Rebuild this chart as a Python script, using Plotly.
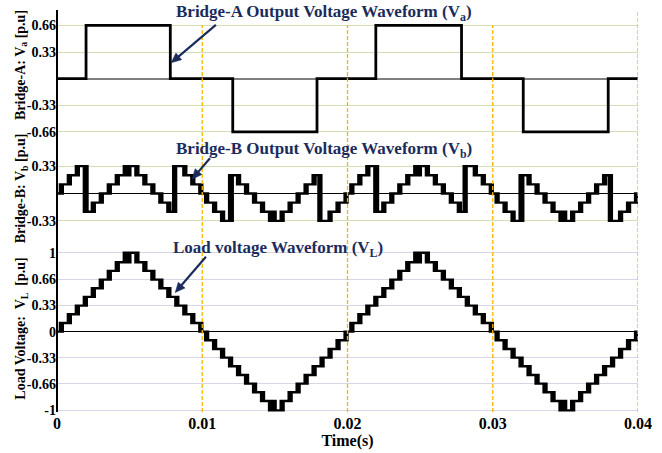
import math
import plotly.graph_objects as go

# ---------------- data ----------------
x_tick_vals = [0, 0.01, 0.02, 0.03, 0.04]
x_tick_text = ["0", "0.01", "0.02", "0.03", "0.04"]

va_tick_vals = [0.66, 0.33, -0.33, -0.66]
va_tick_text = ["0.66", "0.33", "-0.33", "-0.66"]
vb_tick_vals = [0.33, -0.33]
vb_tick_text = ["0.33", "-0.33"]
vl_tick_vals = [1, 0.66, 0.33, 0, -0.33, -0.66, -1]
vl_tick_text = ["1", "0.66", "0.33", "0", "-0.33", "-0.66", "-1"]

# Bridge-A output (step changes, time in ms)
va_time_ms = [0, 2.0, 7.8, 12.1, 17.9, 21.95, 27.85, 32.1, 37.95, 40.0]
va_value = [0, 0.66, 0, -0.66, 0, 0.66, 0, -0.66, 0, 0]

# Load voltage (staircase with switching chatter, time in ms)
vl_time_ms = [
    0,
    0.20, 0.30, 0.40, 0.75, 0.85, 0.95, 1.30, 1.40, 1.50, 1.85, 1.95, 2.05,
    2.40, 2.50, 2.60, 2.95, 3.05, 3.15, 3.50, 3.60, 3.70, 4.05, 4.15, 4.25,
    4.60, 4.70, 4.80, 4.95, 5.05,
    5.40, 5.50, 5.60, 5.95, 6.05, 6.15, 6.50, 6.60, 6.70, 7.05, 7.15, 7.25,
    7.60, 7.70, 7.80, 8.15, 8.25, 8.35, 8.70, 8.80, 8.90, 9.25, 9.35, 9.45,
    9.80, 9.90, 10.00,
    10.20, 10.30, 10.40, 10.75, 10.85, 10.95, 11.30, 11.40, 11.50, 11.85, 11.95, 12.05,
    12.40, 12.50, 12.60, 12.95, 13.05, 13.15, 13.50, 13.60, 13.70, 14.05, 14.15, 14.25,
    14.60, 14.70, 14.80, 14.95, 15.05,
    15.40, 15.50, 15.60, 15.95, 16.05, 16.15, 16.50, 16.60, 16.70, 17.05, 17.15, 17.25,
    17.60, 17.70, 17.80, 18.15, 18.25, 18.35, 18.70, 18.80, 18.90, 19.25, 19.35, 19.45,
    19.80, 19.90, 20.00,
    20.20, 20.30, 20.40, 20.75, 20.85, 20.95, 21.30, 21.40, 21.50, 21.85, 21.95, 22.05,
    22.40, 22.50, 22.60, 22.95, 23.05, 23.15, 23.50, 23.60, 23.70, 24.05, 24.15, 24.25,
    24.60, 24.70, 24.80, 24.95, 25.05,
    25.40, 25.50, 25.60, 25.95, 26.05, 26.15, 26.50, 26.60, 26.70, 27.05, 27.15, 27.25,
    27.60, 27.70, 27.80, 28.15, 28.25, 28.35, 28.70, 28.80, 28.90, 29.25, 29.35, 29.45,
    29.80, 29.90, 30.00,
    30.20, 30.30, 30.40, 30.75, 30.85, 30.95, 31.30, 31.40, 31.50, 31.85, 31.95, 32.05,
    32.40, 32.50, 32.60, 32.95, 33.05, 33.15, 33.50, 33.60, 33.70, 34.05, 34.15, 34.25,
    34.60, 34.70, 34.80, 34.95, 35.05,
    35.40, 35.50, 35.60, 35.95, 36.05, 36.15, 36.50, 36.60, 36.70, 37.05, 37.15, 37.25,
    37.60, 37.70, 37.80, 38.15, 38.25, 38.35, 38.70, 38.80, 38.90, 39.25, 39.35, 39.45,
    39.80, 39.90, 40.00,
]
vl_value = [
    0,
    0.11, 0, 0.11, 0.22, 0.11, 0.22, 0.33, 0.22, 0.33, 0.44, 0.33, 0.44,
    0.55, 0.44, 0.55, 0.66, 0.55, 0.66, 0.77, 0.66, 0.77, 0.88, 0.77, 0.88,
    1.0, 0.88, 1.0, 0.88, 1.0,
    0.88, 1.0, 0.88, 0.77, 0.88, 0.77, 0.66, 0.77, 0.66, 0.55, 0.66, 0.55,
    0.44, 0.55, 0.44, 0.33, 0.44, 0.33, 0.22, 0.33, 0.22, 0.11, 0.22, 0.11,
    0, 0.11, 0,
    -0.11, 0, -0.11, -0.22, -0.11, -0.22, -0.33, -0.22, -0.33, -0.44, -0.33, -0.44,
    -0.55, -0.44, -0.55, -0.66, -0.55, -0.66, -0.77, -0.66, -0.77, -0.88, -0.77, -0.88,
    -1.0, -0.88, -1.0, -0.88, -1.0,
    -0.88, -1.0, -0.88, -0.77, -0.88, -0.77, -0.66, -0.77, -0.66, -0.55, -0.66, -0.55,
    -0.44, -0.55, -0.44, -0.33, -0.44, -0.33, -0.22, -0.33, -0.22, -0.11, -0.22, -0.11,
    0, -0.11, 0,
    0.11, 0, 0.11, 0.22, 0.11, 0.22, 0.33, 0.22, 0.33, 0.44, 0.33, 0.44,
    0.55, 0.44, 0.55, 0.66, 0.55, 0.66, 0.77, 0.66, 0.77, 0.88, 0.77, 0.88,
    1.0, 0.88, 1.0, 0.88, 1.0,
    0.88, 1.0, 0.88, 0.77, 0.88, 0.77, 0.66, 0.77, 0.66, 0.55, 0.66, 0.55,
    0.44, 0.55, 0.44, 0.33, 0.44, 0.33, 0.22, 0.33, 0.22, 0.11, 0.22, 0.11,
    0, 0.11, 0,
    -0.11, 0, -0.11, -0.22, -0.11, -0.22, -0.33, -0.22, -0.33, -0.44, -0.33, -0.44,
    -0.55, -0.44, -0.55, -0.66, -0.55, -0.66, -0.77, -0.66, -0.77, -0.88, -0.77, -0.88,
    -1.0, -0.88, -1.0, -0.88, -1.0,
    -0.88, -1.0, -0.88, -0.77, -0.88, -0.77, -0.66, -0.77, -0.66, -0.55, -0.66, -0.55,
    -0.44, -0.55, -0.44, -0.33, -0.44, -0.33, -0.22, -0.33, -0.22, -0.11, -0.22, -0.11,
    0, -0.11, 0,
]

# Bridge-B output (time in ms)
vb_time_ms = [
    0,
    0.20, 0.30, 0.40, 0.75, 0.85, 0.95, 1.30, 1.40, 1.50, 1.85, 2.00, 2.10,
    2.40, 2.50, 2.60, 2.95, 3.05, 3.15, 3.50, 3.60, 3.70, 4.05, 4.15, 4.25,
    4.60, 4.70, 4.80, 4.95, 5.05,
    5.40, 5.50, 5.60, 5.95, 6.05, 6.15, 6.50, 6.60, 6.70, 7.05, 7.15, 7.25,
    7.60, 7.70, 7.80, 8.00, 8.10, 8.20, 8.70, 8.80, 8.90, 9.25, 9.35, 9.45,
    9.80, 9.90, 10.00,
    10.20, 10.30, 10.40, 10.75, 10.85, 10.95, 11.30, 11.40, 11.50, 11.85, 12.00, 12.10,
    12.40, 12.50, 12.60, 12.95, 13.05, 13.15, 13.50, 13.60, 13.70, 14.05, 14.15, 14.25,
    14.60, 14.70, 14.80, 14.95, 15.05,
    15.40, 15.50, 15.60, 15.95, 16.05, 16.15, 16.50, 16.60, 16.70, 17.05, 17.15, 17.25,
    17.60, 17.70, 17.80, 18.00, 18.10, 18.20, 18.70, 18.80, 18.90, 19.25, 19.35, 19.45,
    19.80, 19.90, 20.00,
    20.20, 20.30, 20.40, 20.75, 20.85, 20.95, 21.30, 21.40, 21.50, 21.85, 22.00, 22.10,
    22.40, 22.50, 22.60, 22.95, 23.05, 23.15, 23.50, 23.60, 23.70, 24.05, 24.15, 24.25,
    24.60, 24.70, 24.80, 24.95, 25.05,
    25.40, 25.50, 25.60, 25.95, 26.05, 26.15, 26.50, 26.60, 26.70, 27.05, 27.15, 27.25,
    27.60, 27.70, 27.80, 28.00, 28.10, 28.20, 28.70, 28.80, 28.90, 29.25, 29.35, 29.45,
    29.80, 29.90, 30.00,
    30.20, 30.30, 30.40, 30.75, 30.85, 30.95, 31.30, 31.40, 31.50, 31.85, 32.00, 32.10,
    32.40, 32.50, 32.60, 32.95, 33.05, 33.15, 33.50, 33.60, 33.70, 34.05, 34.15, 34.25,
    34.60, 34.70, 34.80, 34.95, 35.05,
    35.40, 35.50, 35.60, 35.95, 36.05, 36.15, 36.50, 36.60, 36.70, 37.05, 37.15, 37.25,
    37.60, 37.70, 37.80, 38.00, 38.10, 38.20, 38.70, 38.80, 38.90, 39.25, 39.35, 39.45,
    39.80, 39.90, 40.00,
]
vb_value = [
    0,
    0.11, 0, 0.11, 0.22, 0.11, 0.22, 0.33, 0.22, 0.33, -0.22, 0.33, -0.22,
    -0.11, -0.22, -0.11, 0, -0.11, 0, 0.11, 0, 0.11, 0.22, 0.11, 0.22,
    0.33, 0.22, 0.33, 0.22, 0.33,
    0.22, 0.33, 0.22, 0.11, 0.22, 0.11, 0, 0.11, 0, -0.11, 0, -0.11,
    -0.22, -0.11, -0.22, 0.33, -0.22, 0.33, 0.22, 0.33, 0.22, 0.11, 0.22, 0.11,
    0, 0.11, 0,
    -0.11, 0, -0.11, -0.22, -0.11, -0.22, -0.33, -0.22, -0.33, 0.22, -0.33, 0.22,
    0.11, 0.22, 0.11, 0, 0.11, 0, -0.11, 0, -0.11, -0.22, -0.11, -0.22,
    -0.33, -0.22, -0.33, -0.22, -0.33,
    -0.22, -0.33, -0.22, -0.11, -0.22, -0.11, 0, -0.11, 0, 0.11, 0, 0.11,
    0.22, 0.11, 0.22, -0.33, 0.22, -0.33, -0.22, -0.33, -0.22, -0.11, -0.22, -0.11,
    0, -0.11, 0,
    0.11, 0, 0.11, 0.22, 0.11, 0.22, 0.33, 0.22, 0.33, -0.22, 0.33, -0.22,
    -0.11, -0.22, -0.11, 0, -0.11, 0, 0.11, 0, 0.11, 0.22, 0.11, 0.22,
    0.33, 0.22, 0.33, 0.22, 0.33,
    0.22, 0.33, 0.22, 0.11, 0.22, 0.11, 0, 0.11, 0, -0.11, 0, -0.11,
    -0.22, -0.11, -0.22, 0.33, -0.22, 0.33, 0.22, 0.33, 0.22, 0.11, 0.22, 0.11,
    0, 0.11, 0,
    -0.11, 0, -0.11, -0.22, -0.11, -0.22, -0.33, -0.22, -0.33, 0.22, -0.33, 0.22,
    0.11, 0.22, 0.11, 0, 0.11, 0, -0.11, 0, -0.11, -0.22, -0.11, -0.22,
    -0.33, -0.22, -0.33, -0.22, -0.33,
    -0.22, -0.33, -0.22, -0.11, -0.22, -0.11, 0, -0.11, 0, 0.11, 0, 0.11,
    0.22, 0.11, 0.22, -0.33, 0.22, -0.33, -0.22, -0.33, -0.22, -0.11, -0.22, -0.11,
    0, -0.11, 0,
]

# ---------------- figure ----------------
SERIF = "Liberation Serif"
NAVY = "#1b2c5c"
GREEN_GRID = "#d3dfb2"
LAV_GRID = "#d8d5e8"
GOLD = "#f5b700"

W, H = 662, 453
ML, MR, MT, MB = 57, 20, 10, 39
PW, PH = W - ML - MR, H - MT - MB


def px_x(p):
    return (p - ML) / PW


def px_y(p):
    return (H - MB - p) / PH


def ms_to_s(lst):
    return [v / 1000.0 for v in lst]


fig = go.Figure()
fig.add_trace(go.Scatter(x=ms_to_s(va_time_ms), y=va_value, mode="lines",
                         line=dict(shape="hv", color="black", width=2.8),
                         xaxis="x", yaxis="y", showlegend=False, hoverinfo="skip"))
fig.add_trace(go.Scatter(x=ms_to_s(vb_time_ms), y=vb_value, mode="lines",
                         line=dict(shape="hv", color="black", width=2.4),
                         xaxis="x", yaxis="y2", showlegend=False, hoverinfo="skip"))
fig.add_trace(go.Scatter(x=ms_to_s(vl_time_ms), y=vl_value, mode="lines",
                         line=dict(shape="hv", color="black", width=2.4),
                         xaxis="x", yaxis="y3", showlegend=False, hoverinfo="skip"))

tickfont = dict(family=SERIF, size=14, color="black", weight="bold")

d_top = [px_y(140), 1.0]
d_mid = [px_y(240), px_y(140)]
d_bot = [0.0, px_y(240)]

fig.update_layout(
    width=W, height=H,
    margin=dict(l=ML, r=MR, t=MT, b=MB, pad=0),
    paper_bgcolor="white", plot_bgcolor="white",
    xaxis=dict(domain=[0, 1], anchor="y3", range=[0, 0.04],
               tickvals=x_tick_vals, ticktext=x_tick_text, ticks="",
               showgrid=False, zeroline=False, showline=False,
               tickfont=dict(family=SERIF, size=16, color="black", weight="bold"),
               title=dict(text="Time(s)", standoff=0,
                          font=dict(family=SERIF, size=16, color="black", weight="bold"))),
    yaxis=dict(domain=d_top, anchor="x", range=[-0.7531, 0.8519],
               tickvals=va_tick_vals, ticktext=va_tick_text, ticks="",
               showgrid=True, gridcolor=GREEN_GRID, gridwidth=1.2,
               zeroline=True, zerolinecolor="#7f7f7f", zerolinewidth=1.6,
               showline=False, tickfont=tickfont),
    yaxis2=dict(domain=d_mid, anchor="x", range=[-0.5474, 0.6531],
                tickvals=vb_tick_vals, ticktext=vb_tick_text, ticks="",
                showgrid=True, gridcolor=GREEN_GRID, gridwidth=1.2,
                zeroline=True, zerolinecolor="black", zerolinewidth=1.2,
                showline=False, tickfont=tickfont),
    yaxis3=dict(domain=d_bot, anchor="x", range=[-1.0202, 1.1768],
                tickvals=vl_tick_vals, ticktext=vl_tick_text, ticks="",
                showgrid=True, gridcolor=LAV_GRID, gridwidth=1.2,
                zeroline=True, zerolinecolor="black", zerolinewidth=1.2,
                showline=False, tickfont=tickfont),
)

shapes = []
# yellow dashed time markers
for xv, ytop in [(0.01, px_y(25)), (0.02, px_y(25)), (0.03, px_y(25)), (0.04, 1.0)]:
    shapes.append(dict(type="line", xref="x", yref="paper", x0=xv, x1=xv, y0=0, y1=ytop,
                       line=dict(color=GOLD, width=1.3, dash="4px,2px"), layer="above"))
# left axis line
shapes.append(dict(type="line", xref="paper", yref="paper", x0=0, x1=0, y0=0, y1=1,
                   line=dict(color="black", width=2), layer="above"))

# pointer arrows (tail -> head, pixel positions of the decoration)
for tx, ty, hx, hy in [(217, 25, 172, 63), (211, 159, 193, 180), (207, 258, 176, 294)]:
    dx, dy = hx - tx, hy - ty
    ln = math.hypot(dx, dy)
    ux, uy = dx / ln, dy / ln
    nx, ny = -uy, ux
    bx, by = hx - ux * 10, hy - uy * 10
    shapes.append(dict(type="line", xref="paper", yref="paper",
                       x0=px_x(tx), y0=px_y(ty), x1=px_x(bx + ux * 2), y1=px_y(by + uy * 2),
                       line=dict(color=NAVY, width=2.2), layer="above"))
    pts = [(hx, hy), (bx + nx * 4.5, by + ny * 4.5), (bx - nx * 4.5, by - ny * 4.5)]
    path = "M {} {} L {} {} L {} {} Z".format(*[v for p in pts for v in (px_x(p[0]), px_y(p[1]))])
    shapes.append(dict(type="path", xref="paper", yref="paper", path=path,
                       fillcolor=NAVY, line=dict(color=NAVY, width=0.5), layer="above"))
fig.update_layout(shapes=shapes)

ann = []
title_font = dict(family=SERIF, size=17, color=NAVY, weight="bold")
ann.append(dict(text="Bridge-A Output Voltage Waveform (V<sub>a</sub>)", xref="paper", yref="paper",
                x=px_x(175), y=px_y(0), xanchor="left", yanchor="top", showarrow=False, font=title_font))
ann.append(dict(text="Bridge-B Output Voltage Waveform (V<sub>b</sub>)", xref="paper", yref="paper",
                x=px_x(175), y=px_y(138), xanchor="left", yanchor="top", showarrow=False, font=title_font))
ann.append(dict(text="Load voltage Waveform (V<sub>L</sub>)", xref="paper", yref="paper",
                x=px_x(172), y=px_y(237), xanchor="left", yanchor="top", showarrow=False, font=title_font))

ylab_font = dict(family=SERIF, size=14, color="black", weight="bold")
for txt, cy in [("Bridge-A: V<sub>a</sub> [p.u]", 65),
                ("Bridge-B: V<sub>b</sub> [p.u]", 189),
                ("Load Voltage:  V<sub>L</sub>  [p.u]", 330)]:
    ann.append(dict(text=txt, xref="paper", yref="paper", x=px_x(21), y=px_y(cy),
                    xanchor="center", yanchor="middle", textangle=-90, showarrow=False,
                    font=ylab_font))
fig.update_layout(annotations=ann)

fig.write_html("out.html")
